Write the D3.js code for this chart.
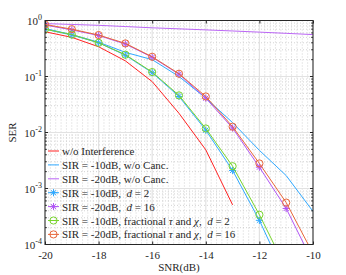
<!DOCTYPE html>
<html lang="en">
    <head>
        <meta charset="utf-8">
        <title>SER vs SNR</title>
        <script src="https://d3js.org/d3.v7.min.js"></script>
        <style>
            body { margin: 0; background: #fff; }
            svg { display: block; font-family: "Liberation Serif", "Times New Roman", serif; }
        </style>
    </head>
    <body>
        <svg id="chart"></svg>
        <script>
            // data
            const snr = [-20, -19, -18, -17, -16, -15, -14, -13, -12, -11, -10];
            const noInterf = [0.63, 0.50, 0.34, 0.19, 0.081, 0.022, 0.0049, 0.00051];
            const sir10NoCanc = [0.72, 0.56, 0.41, 0.27, 0.20, 0.10, 0.041, 0.015, 0.0048, 0.0017, 0.00039];
            const sir20NoCanc = [0.88, 0.85, 0.82, 0.78, 0.74, 0.71, 0.68, 0.65, 0.62, 0.59, 0.56];
            const sir10d2 = [0.70, 0.55, 0.40, 0.24, 0.117, 0.044, 0.011, 0.0021, 0.00027, 0.000025];
            const sir20d16 = [0.83, 0.68, 0.54, 0.38, 0.22, 0.11, 0.041, 0.012, 0.0024, 0.00044, 0.000048];
            const sir10frac = [0.70, 0.56, 0.40, 0.245, 0.12, 0.046, 0.0118, 0.0025, 0.00034, 0.000037];
            const sir20frac = [0.85, 0.70, 0.55, 0.39, 0.225, 0.112, 0.044, 0.0127, 0.0028, 0.00056, 0.000069];

            const xTicks = [-20, -18, -16, -14, -12, -10];
            const yTicks = [1e-4, 1e-3, 1e-2, 1e-1, 1];

            const series = [
                { name: "w/o Interference", values: noInterf, color: "#ff2222", marker: null },
                { name: "SIR = -10dB, w/o Canc.", values: sir10NoCanc, color: "#2ea8ff", marker: null },
                { name: "SIR = -20dB, w/o Canc.", values: sir20NoCanc, color: "#bb66f5", marker: null },
                { name: "SIR = -10dB,", d: "2", values: sir10d2, color: "#2ea8ff", marker: "star" },
                { name: "SIR = -20dB,", d: "16", values: sir20d16, color: "#b055f5", marker: "star" },
                { name: "SIR = -10dB, fractional", frac: true, d: "2", values: sir10frac, color: "#77d42c", marker: "circle" },
                { name: "SIR = -20dB, fractional", frac: true, d: "16", values: sir20frac, color: "#e8673a", marker: "circle" }
            ];

            const W = 346, H = 275;
            const margin = { top: 20.5, right: 33, bottom: 30.5, left: 45 };
            const width = W - margin.left - margin.right;
            const height = H - margin.top - margin.bottom;

            const svg = d3.select("#chart").attr("width", W).attr("height", H);
            const g = svg.append("g").attr("transform", `translate(${margin.left},${margin.top})`);

            const x = d3.scaleLinear().domain([-20, -10]).range([0, width]);
            const y = d3.scaleLog().domain([1e-4, 1]).range([height, 0]);

            // minor grid
            const xMinor = d3.range(-20, -9.99, 0.2).filter(v => Math.abs(v / 2 - Math.round(v / 2)) > 0.01);
            const yMinor = [];
            for (let e = -4; e < 0; e++) for (let m = 2; m <= 9; m++) yMinor.push(m * Math.pow(10, e));

            g.selectAll(".xminor").data(xMinor).enter().append("line")
                .attr("x1", d => x(d)).attr("x2", d => x(d)).attr("y1", 0).attr("y2", height)
                .attr("stroke", "#c8c8c8").attr("stroke-width", 0.8).attr("stroke-dasharray", "1,2");
            g.selectAll(".yminor").data(yMinor).enter().append("line")
                .attr("y1", d => y(d)).attr("y2", d => y(d)).attr("x1", 0).attr("x2", width)
                .attr("stroke", "#c8c8c8").attr("stroke-width", 0.8).attr("stroke-dasharray", "1,2");

            // major grid
            g.selectAll(".xmajor").data(xTicks).enter().append("line")
                .attr("x1", d => x(d)).attr("x2", d => x(d)).attr("y1", 0).attr("y2", height)
                .attr("stroke", "#e2e2e2").attr("stroke-width", 1.2);
            g.selectAll(".ymajor").data(yTicks).enter().append("line")
                .attr("y1", d => y(d)).attr("y2", d => y(d)).attr("x1", 0).attr("x2", width)
                .attr("stroke", "#e2e2e2").attr("stroke-width", 1.2);

            // curves, clipped to the axes
            svg.append("defs").append("clipPath").attr("id", "clip")
                .append("rect").attr("width", width).attr("height", height);
            const plot = g.append("g").attr("clip-path", "url(#clip)");

            const line = d3.line().x((d, i) => x(snr[i])).y(d => y(d));

            function drawMarker(sel, type, cx, cy, color) {
                if (type === "circle") {
                    sel.append("circle").attr("cx", cx).attr("cy", cy).attr("r", 3.6)
                        .attr("fill", "none").attr("stroke", color).attr("stroke-width", 1);
                } else if (type === "star") {
                    const r = 3.6;
                    [0, 45, 90, 135].forEach(a => {
                        const t = a * Math.PI / 180;
                        sel.append("line")
                            .attr("x1", cx - r * Math.cos(t)).attr("y1", cy - r * Math.sin(t))
                            .attr("x2", cx + r * Math.cos(t)).attr("y2", cy + r * Math.sin(t))
                            .attr("stroke", color).attr("stroke-width", 1);
                    });
                }
            }

            series.forEach(s => {
                plot.append("path").datum(s.values)
                    .attr("d", line)
                    .attr("fill", "none")
                    .attr("stroke", s.color)
                    .attr("stroke-width", 1);
                if (s.marker) {
                    s.values.forEach((v, i) => drawMarker(plot, s.marker, x(snr[i]), y(v), s.color));
                }
            });

            // axes box and ticks
            g.append("rect").attr("width", width).attr("height", height)
                .attr("fill", "none").attr("stroke", "#262626").attr("stroke-width", 1);

            const xAxis = d3.axisBottom(x).tickValues(xTicks).tickSize(-3).tickPadding(7)
                .tickFormat(d => d);
            const gx = g.append("g").attr("transform", `translate(0,${height})`).call(xAxis);
            gx.select(".domain").remove();
            gx.selectAll("line").attr("stroke", "#262626");
            gx.selectAll("text").attr("font-size", 11).attr("fill", "#262626")
                .attr("font-family", "Liberation Serif");

            const xTop = d3.axisTop(x).tickValues(xTicks).tickSize(-3).tickFormat("");
            const gxt = g.append("g").call(xTop);
            gxt.select(".domain").remove();
            gxt.selectAll("line").attr("stroke", "#262626");

            [0, width].forEach(px => {
                const dir = px === 0 ? 1 : -1;
                g.selectAll(null).data(yTicks).enter().append("line")
                    .attr("x1", px).attr("x2", px + dir * 3)
                    .attr("y1", d => y(d)).attr("y2", d => y(d))
                    .attr("stroke", "#262626");
                g.selectAll(null).data(yMinor).enter().append("line")
                    .attr("x1", px).attr("x2", px + dir * 1.8)
                    .attr("y1", d => y(d)).attr("y2", d => y(d))
                    .attr("stroke", "#262626");
            });

            // y tick labels 10^n
            const yl = g.selectAll(".ylab").data(yTicks).enter().append("text")
                .attr("x", -3).attr("y", d => y(d) + 4)
                .attr("text-anchor", "end")
                .attr("font-size", 11).attr("fill", "#262626");
            yl.append("tspan").text("10");
            yl.append("tspan").attr("dy", -5).attr("font-size", 8)
                .text(d => Math.round(Math.log10(d)));

            // axis titles
            g.append("text").attr("x", width / 2).attr("y", height + 26)
                .attr("text-anchor", "middle").attr("font-size", 11).attr("fill", "#262626")
                .text("SNR(dB)");
            g.append("text")
                .attr("transform", `translate(${-29},${height / 2}) rotate(-90)`)
                .attr("text-anchor", "middle").attr("font-size", 11).attr("fill", "#262626")
                .text("SER");

            // legend
            const leg = g.append("g").attr("transform", "translate(3,130.5)");
            series.forEach((s, i) => {
                const ly = i * 13.9;
                const row = leg.append("g");
                row.append("line").attr("x1", 0).attr("x2", 11).attr("y1", ly).attr("y2", ly)
                    .attr("stroke", s.color).attr("stroke-width", 1);
                if (s.marker) drawMarker(row, s.marker, 5.5, ly, s.color);
                const t = row.append("text").attr("x", 14).attr("y", ly + 4)
                    .attr("font-size", 11).attr("fill", "#262626");
                t.append("tspan").text(s.name);
                if (s.frac) {
                    t.append("tspan").text(" ");
                    t.append("tspan").attr("font-style", "italic").text("τ");
                    t.append("tspan").text(" and ");
                    t.append("tspan").attr("font-style", "italic").text("χ");
                    t.append("tspan").text(",");
                }
                if (s.d) {
                    t.append("tspan").text("\u00a0\u00a0");
                    t.append("tspan").attr("font-style", "italic").text("d");
                    t.append("tspan").text(" = " + s.d);
                }
            });
        </script>
    </body>
</html>
